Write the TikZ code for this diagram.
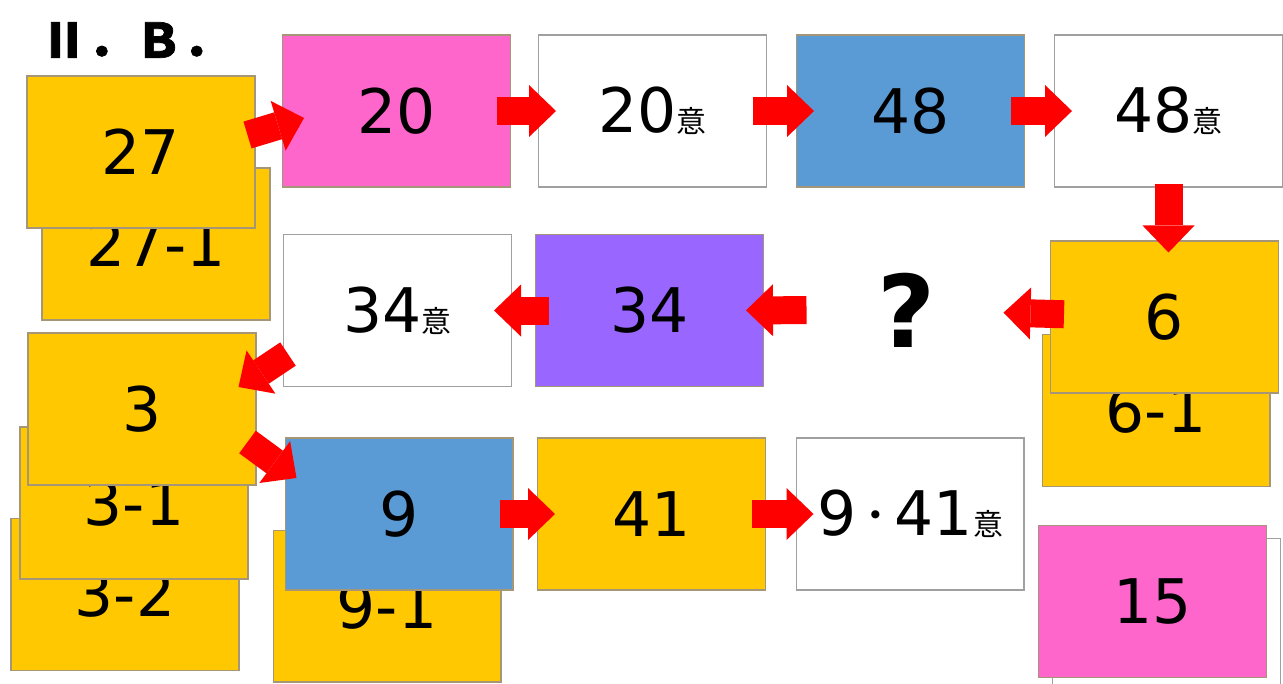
\documentclass[tikz,border=0pt]{standalone}
\usepackage{fontspec}
\setmainfont{DejaVu Sans}
\newfontfamily\jpfont{Noto Sans CJK JP}
\newfontfamily\titlefont{Noto Sans CJK JP}[BoldFeatures={FakeBold=1.5}]
\usetikzlibrary{arrows.meta,positioning}
\definecolor{cardyellow}{RGB}{255,200,0}
\definecolor{cardpink}{RGB}{255,102,204}
\definecolor{cardblue}{RGB}{91,155,213}
\definecolor{cardpurple}{RGB}{153,102,255}
\definecolor{cardline}{RGB}{165,150,120}
\definecolor{whiteline}{RGB}{160,160,160}
\definecolor{arrowred}{RGB}{255,0,0}
\newcommand{\cardfont}{\fontsize{35}{40}\selectfont}
\newcommand{\imi}{{\jpfont\fontsize{17}{17}\selectfont 意}}
\newcommand{\nakaguro}{\raisebox{0.1em}{\jpfont\fontsize{22}{22}\selectfont ・}}
\tikzset{
  card/.style={
    draw=cardline,
    line width=0.6pt,
    minimum width=4.56cm,
    minimum height=3.04cm,
    inner sep=0pt,
    font=\cardfont
  },
  yellowcard/.style={card, fill=cardyellow},
  pinkcard/.style={card, fill=cardpink},
  bluecard/.style={card, fill=cardblue},
  purplecard/.style={card, fill=cardpurple},
  whitecard/.style={card, fill=white, draw=whiteline},
  bigarrow/.style={draw=arrowred, line width=0.56cm,
    -{Triangle[length=0.54cm, width=1.04cm, line width=0pt]}},
  overlap/.style={shorten <=-0.28cm, shorten >=-0.36cm}
}

\begin{document}
\begin{tikzpicture}[x=0.02cm, y=-0.02cm, node distance=0.58cm]
  \useasboundingbox (0,0) rectangle (1283,683);

  \node[font=\titlefont\bfseries\fontsize{27}{27}\selectfont, anchor=west] (title)
    at (34,40) {Ⅱ．Ｂ．};

  % cards lying underneath
  \node[yellowcard] (c27b) at (156,244) {27-1};
  \node[yellowcard] (c6b) at (1156,410.5) {6-1};
  \node[yellowcard] (c3c) at (125,594.5) {3-2};
  \node[yellowcard] (c3b) at (134,503) {3-1};
  \node[yellowcard] (c9b) at (387,606) {9-1};
  \node[whitecard] (blank) at (1166.5,614) {};

  % row 1
  \node[yellowcard] (c27) at (141,152) {27};
  \node[pinkcard] (c20) at (396.5,111) {20};
  \node[whitecard, right=0.54cm of c20] (c20i) {20\imi};
  \node[bluecard, right=of c20i] (c48) {48};
  \node[whitecard, right=of c48] (c48i) {48\imi};

  % row 2
  \node[yellowcard] (c6) at (1164.5,317) {6};
  \node[card, draw=none, font=\bfseries\fontsize{57}{60}\selectfont] (qmark)
    at (907,310) {?};
  \node[purplecard] (c34) at (649.5,310.5) {34};
  \node[whitecard] (c34i) at (397.5,310.5) {34\imi};

  % row 3
  \node[yellowcard] (c3) at (142,409) {3};
  \node[bluecard] (c9) at (399,514) {9};
  \node[yellowcard] (c41) at (651.5,514) {41};
  \node[whitecard] (c941i) at (910,514) {9\nakaguro41\imi};

  \node[pinkcard] (c15) at (1152.5,601.5) {15};

  \draw[bigarrow] ([shift={(-8,-17)}]c27.east) -- ([shift={(22,7)}]c20.west);
  \draw[bigarrow, overlap] (c20) -- (c20i);
  \draw[bigarrow, overlap] (c20i) -- (c48);
  \draw[bigarrow, overlap] (c48) -- (c48i);
  \draw[bigarrow, shorten <=-0.08cm, shorten >=-0.24cm]
    (c48i.south) -- (c48i.south |- c6.north);
  \draw[bigarrow, overlap] (c6) -- (qmark);
  \draw[bigarrow, overlap] (qmark) -- (c34);
  \draw[bigarrow, overlap] (c34) -- (c34i);
  \draw[bigarrow] ([shift={(5,-33)}]c34i.south west) -- ([shift={(-18,-22)}]c3.east);
  \draw[bigarrow] ([shift={(-9,33)}]c3.east) -- ([shift={(12,-36)}]c9.west);
  \draw[bigarrow, overlap] (c9) -- (c41);
  \draw[bigarrow, overlap] (c41) -- (c941i);
\end{tikzpicture}
\end{document}
